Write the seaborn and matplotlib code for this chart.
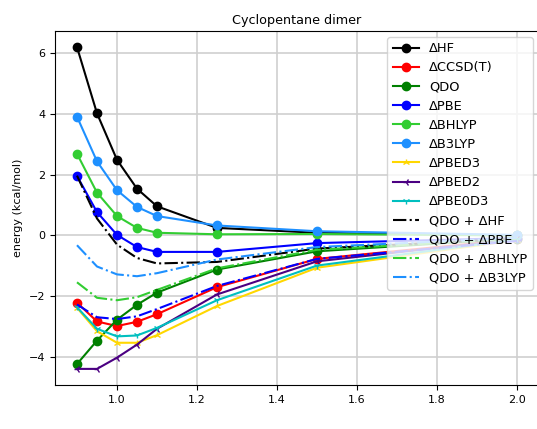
import matplotlib
matplotlib.use("Agg")
import matplotlib.pyplot as plt
import seaborn as sns
import numpy as np

# distances (scaled)
r = [0.9, 0.95, 1.0, 1.05, 1.1, 1.25, 1.5, 2.0]

d_hf      = [6.20, 4.02, 2.49, 1.54, 0.96, 0.25, 0.09, 0.00]
d_ccsdt   = [-2.21, -2.83, -2.98, -2.84, -2.59, -1.70, -0.77, -0.12]
qdo       = [-4.23, -3.46, -2.77, -2.28, -1.88, -1.12, -0.52, -0.10]
d_pbe     = [1.96, 0.77, 0.02, -0.38, -0.54, -0.54, -0.25, -0.08]
d_bhlyp   = [2.69, 1.41, 0.64, 0.25, 0.09, 0.04, 0.05, 0.00]
d_b3lyp   = [3.91, 2.44, 1.49, 0.94, 0.64, 0.33, 0.14, 0.02]
d_pbed3   = [-2.38, -3.15, -3.53, -3.53, -3.28, -2.32, -1.06, -0.15]
d_pbed2   = [-4.39, -4.39, -4.02, -3.59, -3.07, -1.94, -0.85, -0.12]
d_pbe0d3  = [-2.36, -3.07, -3.32, -3.29, -3.04, -2.13, -0.99, -0.13]
qdo_hf    = [1.97, 0.56, -0.30, -0.74, -0.92, -0.87, -0.43, -0.10]
qdo_pbe   = [-2.27, -2.69, -2.75, -2.66, -2.42, -1.66, -0.77, -0.18]
qdo_bhlyp = [-1.54, -2.05, -2.13, -2.03, -1.79, -1.08, -0.47, -0.10]
qdo_b3lyp = [-0.32, -1.02, -1.28, -1.34, -1.24, -0.79, -0.38, -0.08]

series = [
    ("ΔHF", d_hf, "black", "o", "-"),
    ("ΔCCSD(T)", d_ccsdt, "red", "o", "-"),
    ("QDO", qdo, "green", "o", "-"),
    ("ΔPBE", d_pbe, "blue", "o", "-"),
    ("ΔBHLYP", d_bhlyp, "limegreen", "o", "-"),
    ("ΔB3LYP", d_b3lyp, "dodgerblue", "o", "-"),
    ("ΔPBED3", d_pbed3, "gold", "2", "-"),
    ("ΔPBED2", d_pbed2, "indigo", "3", "-"),
    ("ΔPBE0D3", d_pbe0d3, "c", "1", "-"),
    ("QDO + ΔHF", qdo_hf, "black", None, "-."),
    ("QDO + ΔPBE", qdo_pbe, "blue", None, "-."),
    ("QDO + ΔBHLYP", qdo_bhlyp, "limegreen", None, "-."),
    ("QDO + ΔB3LYP", qdo_b3lyp, "dodgerblue", None, "-."),
]

plt.rcParams.update({
    "font.family": ["DejaVu Sans"],
    "font.size": 8,
    "axes.linewidth": 0.8,
})

fig = plt.figure(figsize=(5.37, 4.29), dpi=100)
ax = fig.add_axes([55/537, 1-385/429, (539-55)/537, (385-31)/429])

for label, vals, color, marker, ls in series:
    kw = dict(x=r, y=vals, color=color, linestyle=ls, linewidth=1.5,
              label=label, ax=ax, sort=False)
    if marker is not None:
        ms = 6 if marker == "o" else 5
        kw.update(marker=marker, markersize=ms, markeredgecolor=color,
                  markeredgewidth=1.0)
    sns.lineplot(**kw)

ax.set_xlim(0.845, 2.055)
ax.set_ylim(-4.92, 6.73)
ax.set_xticks([1.0, 1.2, 1.4, 1.6, 1.8, 2.0])
ax.set_yticks([-4, -2, 0, 2, 4, 6])
ax.grid(True, color="#cfcfcf", linewidth=1.2)
ax.set_axisbelow(True)
ax.spines["right"].set_visible(False)
ax.tick_params(labelsize=8, length=3.5, width=0.8)
ax.set_ylabel("energy (kcal/mol)", fontsize=8)
ax.set_xlabel("")
ax.set_title("Cyclopentane dimer", fontsize=9.2, pad=5)
ax.legend(loc="upper right", fontsize=9.4, framealpha=0.8, labelspacing=0.47,
          bbox_to_anchor=(532/539, 1 - 6/354), borderaxespad=0.0)

fig.savefig("out.png", dpi=100)
